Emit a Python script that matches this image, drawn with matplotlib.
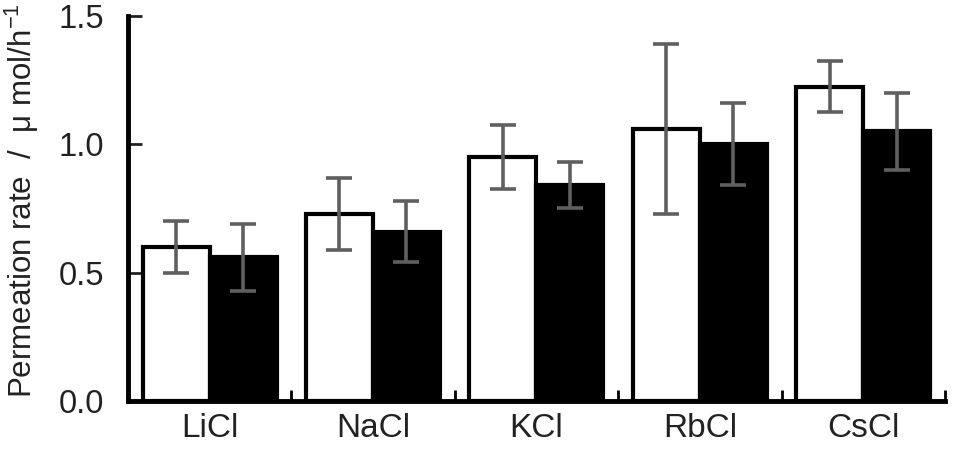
import numpy as np
import matplotlib
matplotlib.use('Agg')
import matplotlib.pyplot as plt

# salts and measured permeation rates (two conditions: open / filled bars)
salts = ['LiCl', 'NaCl', 'KCl', 'RbCl', 'CsCl']
rate_open = [0.60, 0.73, 0.95, 1.06, 1.225]
err_open = [0.10, 0.14, 0.125, 0.33, 0.10]
rate_fill = [0.56, 0.66, 0.84, 1.00, 1.05]
err_fill = [0.13, 0.12, 0.09, 0.16, 0.15]

plt.rcParams['font.family'] = ['Liberation Sans', 'DejaVu Sans']
plt.rcParams['mathtext.fontset'] = 'custom'
plt.rcParams['mathtext.rm'] = 'Liberation Sans'
plt.rcParams['mathtext.it'] = 'Liberation Sans'

fig = plt.figure(figsize=(9.54, 4.51), dpi=100)
ax = fig.add_axes([0.134, 0.111, 0.8566, 0.8535])

x = np.arange(len(salts))
w = 0.41
ekw = dict(ecolor='#5f5f5f', elinewidth=2.6, capsize=9.5, capthick=2.6)
ax.bar(x - w/2, rate_open, w, color='white', edgecolor='black', linewidth=3,
       yerr=err_open, error_kw=ekw, zorder=2)
ax.bar(x + w/2, rate_fill, w, color='black', edgecolor='black', linewidth=3,
       yerr=err_fill, error_kw=ekw, zorder=2)

ax.set_xlim(-0.5, len(salts) - 0.5)
ax.set_ylim(0, 1.5)
ax.set_yticks([0, 0.5, 1.0, 1.5])
ax.set_yticklabels(['0.0', '0.5', '1.0', '1.5'])
ax.set_xticks(x)
ax.set_xticklabels(salts)
ax.set_xticks(x + 0.5, minor=True)

ax.tick_params(axis='y', direction='in', length=10, width=2, labelsize=23.5,
               pad=17, colors='#222222')
ax.tick_params(axis='x', which='major', length=0, labelsize=24, pad=9,
               colors='#222222')
ax.tick_params(axis='x', which='minor', direction='in', length=8, width=2)

for s in ['top', 'right']:
    ax.spines[s].set_visible(False)
for s in ['left', 'bottom']:
    ax.spines[s].set_linewidth(3.5)

fig.text(0.023, 0.117, 'Permeation rate  /  \u03bc mol/h$^{-1}$', rotation=90,
         ha='center', va='bottom', fontsize=22.5, color='#222222')

fig.savefig('out.png', dpi=100)
